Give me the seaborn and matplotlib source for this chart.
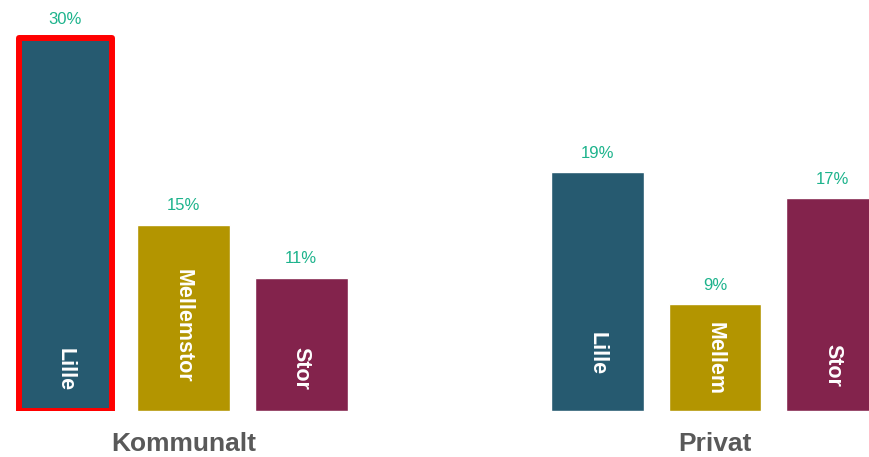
import matplotlib
matplotlib.use("Agg")
import matplotlib.pyplot as plt
import seaborn as sns
import pandas as pd
import numpy as np

# ---- data ----
groups = ["Kommunalt", "Kommunalt", "Kommunalt", "Privat", "Privat", "Privat"]
sizes = ["Lille", "Mellem", "Stor", "Lille", "Mellem", "Stor"]
values = [30.0, 15.0, 10.7, 19.2, 8.6, 17.1]
value_labels = ["30%", "15%", "11%", "19%", "9%", "17%"]
inner_labels = ["Lille", "Mellemstor", "Stor", "Lille", "Mellem", "Stor"]
# vertical centre of the in-bar text (in value units)
inner_label_y = [3.3, 6.85, 3.45, 4.6, 4.25, 3.7]

palette = {"Lille": "#265A70", "Mellem": "#B39500", "Stor": "#83234C"}

df = pd.DataFrame({"group": groups, "size": sizes, "value": values})

sns.set_theme(style="white")
plt.rcParams["font.family"] = ["Liberation Sans", "DejaVu Sans"]

fig = plt.figure(figsize=(8.69, 4.57), dpi=100)
ax = fig.add_axes([0, 46 / 457, 1, 411 / 457])

sns.barplot(data=df, x="group", y="value", hue="size",
            hue_order=["Lille", "Mellem", "Stor"], order=["Kommunalt", "Privat"],
            palette=palette, width=0.665, gap=0.213, saturation=1,
            legend=False, ax=ax, errorbar=None)

ax.set_ylim(0, 411 / 12.43)
ax.set_xlim(-0.3447, 1.2896)
for s in ax.spines.values():
    s.set_visible(False)
ax.set_yticks([])
ax.set_xlabel("")
ax.set_ylabel("")
ax.tick_params(axis="x", length=0, pad=15, labelsize=19, labelcolor="#595959")
for t in ax.get_xticklabels():
    t.set_fontweight("bold")

bars = [p for p in ax.patches if p.get_height() > 0]
for p in bars:
    h = p.get_height()
    idx = int(np.argmin([abs(h - v) for v in values]))
    cx = p.get_x() + p.get_width() / 2
    ax.annotate(value_labels[idx], (cx, h), xytext=(0, 10.5),
                textcoords="offset points", ha="center", va="baseline",
                fontsize=12, color="#1DB38C")
    ax.text(cx, inner_label_y[idx], inner_labels[idx], rotation=270,
            ha="center", va="center", color="white", fontsize=15.5,
            fontweight="bold")
    if idx == 0:
        p.set_edgecolor("#FF0000")
        p.set_linewidth(4.3)
        p.set_joinstyle("round")

fig.savefig("out.png", dpi=100)
